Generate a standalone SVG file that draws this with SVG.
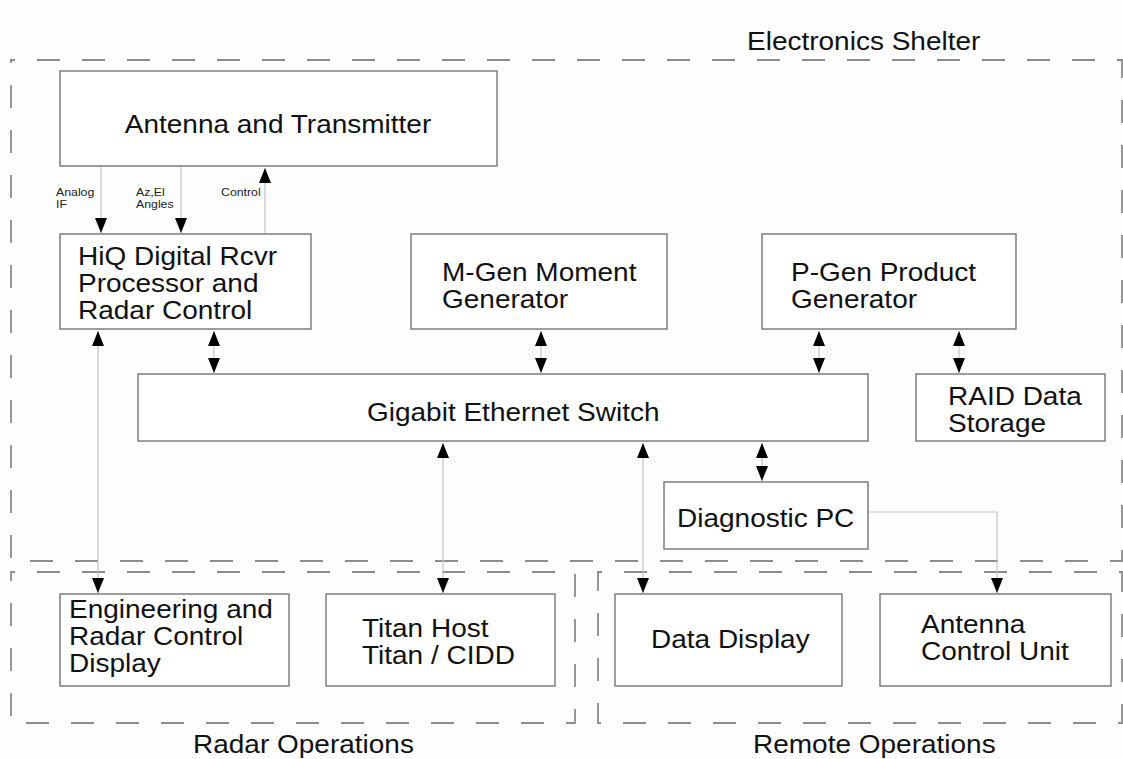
<svg xmlns="http://www.w3.org/2000/svg" width="1123" height="759" viewBox="0 0 1123 759">
<style>
.bg{fill:#fdfdfd}
.box{fill:#ffffff;stroke:#7d7d7d;stroke-width:1.5}
.zone{fill:none;stroke:#8c8c8c;stroke-width:1.8;stroke-dasharray:23 22;stroke-dashoffset:19}
.t{font-family:"Liberation Sans",Arial,sans-serif;font-size:25px;fill:#111}
.s{font-family:"Liberation Sans",Arial,sans-serif;font-size:11px;fill:#222}
.c{fill:none;stroke:#c4c4c4;stroke-width:1.2}
</style>
<defs>
<marker id="arr" viewBox="0 0 15 12" refX="15" refY="6" markerWidth="15" markerHeight="12" markerUnits="userSpaceOnUse" orient="auto-start-reverse">
<path d="M0,0 L15,6 L0,12 z" fill="#000"/>
</marker>
</defs>
<rect class="bg" x="0" y="0" width="1123" height="759"/>

<g id="zones">
<rect class="zone" x="11" y="60" width="1111" height="501"/>
<rect class="zone" x="11" y="572" width="564" height="151"/>
<rect class="zone" x="598" y="572" width="524" height="151"/>
<text class="t" transform="translate(747 50) scale(1.12 1)">Electronics Shelter</text>
<text class="t" transform="translate(193 753) scale(1.12 1)">Radar Operations</text>
<text class="t" transform="translate(753 753) scale(1.12 1)">Remote Operations</text>
</g>

<g id="connectors">
<line class="c" x1="101" y1="166" x2="101" y2="233" marker-end="url(#arr)"/>
<line class="c" x1="181" y1="166" x2="181" y2="233" marker-end="url(#arr)"/>
<line class="c" x1="265" y1="234" x2="265" y2="168" marker-end="url(#arr)"/>
<line class="c" x1="214" y1="331" x2="214" y2="373" marker-start="url(#arr)" marker-end="url(#arr)"/>
<line class="c" x1="98" y1="331" x2="98" y2="593" marker-start="url(#arr)" marker-end="url(#arr)"/>
<line class="c" x1="541" y1="331" x2="541" y2="373" marker-start="url(#arr)" marker-end="url(#arr)"/>
<line class="c" x1="819" y1="331" x2="819" y2="373" marker-start="url(#arr)" marker-end="url(#arr)"/>
<line class="c" x1="959" y1="331" x2="959" y2="373" marker-start="url(#arr)" marker-end="url(#arr)"/>
<line class="c" x1="443" y1="443" x2="443" y2="593" marker-start="url(#arr)" marker-end="url(#arr)"/>
<line class="c" x1="643" y1="443" x2="643" y2="593" marker-start="url(#arr)" marker-end="url(#arr)"/>
<line class="c" x1="762" y1="443" x2="762" y2="481" marker-start="url(#arr)" marker-end="url(#arr)"/>
<path class="c" d="M868,512 H997 V593" marker-end="url(#arr)"/>
<text class="s" transform="translate(56 196) scale(1.12 1)"><tspan x="0">Analog</tspan><tspan x="0" dy="12">IF</tspan></text>
<text class="s" transform="translate(136 196) scale(1.12 1)"><tspan x="0">Az,El</tspan><tspan x="0" dy="12">Angles</tspan></text>
<text class="s" transform="translate(221 196) scale(1.12 1)">Control</text>
</g>

<g id="antenna">
<rect class="box" x="60" y="71" width="437" height="95"/>
<text class="t" text-anchor="middle" transform="translate(278 133) scale(1.12 1)">Antenna and Transmitter</text>
</g>

<g id="hiq">
<rect class="box" x="60" y="234" width="251" height="95"/>
<text class="t" transform="translate(78 265) scale(1.12 1)"><tspan x="0">HiQ Digital Rcvr</tspan><tspan x="0" dy="27">Processor and</tspan><tspan x="0" dy="27">Radar Control</tspan></text>
</g>

<g id="mgen">
<rect class="box" x="411" y="234" width="256" height="95"/>
<text class="t" transform="translate(442 281) scale(1.12 1)"><tspan x="0">M-Gen Moment</tspan><tspan x="0" dy="27">Generator</tspan></text>
</g>

<g id="pgen">
<rect class="box" x="762" y="234" width="254" height="95"/>
<text class="t" transform="translate(791 281) scale(1.12 1)"><tspan x="0">P-Gen Product</tspan><tspan x="0" dy="27">Generator</tspan></text>
</g>

<g id="switch">
<rect class="box" x="138" y="374" width="730" height="67"/>
<text class="t" transform="translate(367 421) scale(1.12 1)">Gigabit Ethernet Switch</text>
</g>

<g id="raid">
<rect class="box" x="916" y="374" width="189" height="67"/>
<text class="t" transform="translate(948 405) scale(1.12 1)"><tspan x="0">RAID Data</tspan><tspan x="0" dy="27">Storage</tspan></text>
</g>

<g id="diag">
<rect class="box" x="664" y="482" width="204" height="67"/>
<text class="t" transform="translate(677 527) scale(1.12 1)">Diagnostic PC</text>
</g>

<g id="engdisp">
<rect class="box" x="60" y="594" width="229" height="92"/>
<text class="t" transform="translate(69 618) scale(1.12 1)"><tspan x="0">Engineering and</tspan><tspan x="0" dy="27">Radar Control</tspan><tspan x="0" dy="27">Display</tspan></text>
</g>

<g id="titan">
<rect class="box" x="326" y="594" width="229" height="92"/>
<text class="t" transform="translate(362 637) scale(1.12 1)"><tspan x="0">Titan Host</tspan><tspan x="0" dy="27">Titan / CIDD</tspan></text>
</g>

<g id="datadisp">
<rect class="box" x="615" y="594" width="227" height="92"/>
<text class="t" transform="translate(651 648) scale(1.12 1)">Data Display</text>
</g>

<g id="acu">
<rect class="box" x="880" y="594" width="231" height="92"/>
<text class="t" transform="translate(921 633) scale(1.12 1)"><tspan x="0">Antenna</tspan><tspan x="0" dy="27">Control Unit</tspan></text>
</g>
</svg>
